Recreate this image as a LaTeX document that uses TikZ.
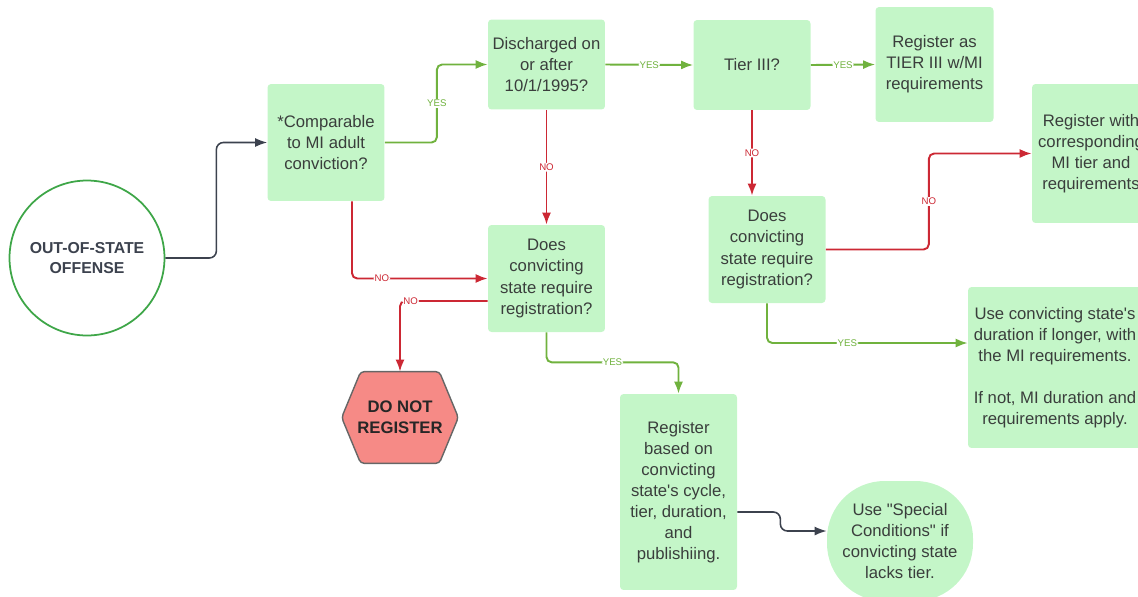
\documentclass[tikz,border=0pt]{standalone}
\usepackage{fontspec}
\setmainfont{Liberation Sans}
\usetikzlibrary{arrows.meta}

\definecolor{boxgreen}{RGB}{196,246,200}
\definecolor{yesgreen}{RGB}{112,178,62}
\definecolor{nored}{RGB}{204,40,52}
\definecolor{linkgray}{RGB}{60,66,78}
\definecolor{ringgreen}{RGB}{62,166,72}
\definecolor{stopred}{RGB}{246,138,134}
\definecolor{inkgray}{RGB}{58,62,60}

\begin{document}
\begin{tikzpicture}[x=0.02cm,y=-0.02cm,>={Latex[length=2.4mm,width=1.8mm]},
    box/.style={fill=boxgreen, rounded corners=2pt, align=center, text=inkgray,
      font=\fontsize{9.5}{12}\selectfont, minimum width=2.34cm, inner sep=2pt},
    yes/.style={->, draw=yesgreen, line width=1.1pt, rounded corners=3pt},
    no/.style={->, draw=nored, line width=1.1pt, rounded corners=3pt},
    link/.style={->, draw=linkgray, line width=0.9pt, rounded corners=4pt},
    tag/.style={font=\fontsize{5.5}{6}\selectfont, fill=white, inner sep=0.6pt},
    yestag/.style={tag, text=yesgreen},
    notag/.style={tag, text=nored}]
    \useasboundingbox (0,0) rectangle (1138,596);
    \clip (0,0) rectangle (1138,596);
    % start
    \node[circle, draw=ringgreen, line width=1pt, fill=white, minimum size=3.1cm,
      align=center, text=linkgray, font=\bfseries\fontsize{9}{11.5}\selectfont]
      (offense) at (87,258) {OUT-OF-STATE\\OFFENSE};
    % questions and outcomes
    \node[box, minimum height=2.34cm] (compare) at (326,142.5) {*Comparable\\to MI adult\\conviction?};
    \node[box, minimum height=1.8cm] (discharged) at (546.5,64.5) {Discharged on\\or after\\10/1/1995?};
    \node[box, minimum height=1.8cm] (tier) at (752,65) {Tier III?};
    \node[box, minimum height=2.3cm, minimum width=2.36cm] (tierthree) at (934.5,64.5) {Register as\\TIER III w/MI\\requirements};
    \node[box, minimum height=2.78cm, minimum width=2.36cm] (corresp) at (1091,153.5) {Register with\\corresponding\\MI tier and\\requirements};
    \node[box, minimum height=2.14cm] (statereq) at (546.5,278.5) {Does\\convicting\\state require\\registration?};
    \node[box, minimum height=2.14cm] (statereqb) at (767,249.5) {Does\\convicting\\state require\\registration?};
    \node[box, minimum height=3.92cm] (based) at (678.5,492) {Register\\based on\\convicting\\state\textquotesingle s cycle,\\tier, duration,\\and\\publishiing.};
    \node[box, minimum width=3.48cm, minimum height=3.22cm] (longer) at (1055,367.5)
      {Use convicting state\textquotesingle s\\duration if longer, with\\the MI requirements.\\[12pt]If not, MI duration and\\requirements apply.};
    \node[box, rounded corners=1.15cm, minimum width=2.92cm, minimum height=2.4cm] (special) at (900,541)
      {Use \textquotedbl Special\\Conditions\textquotedbl{} if\\convicting state\\lacks tier.};
    % stop sign
    \path (400,417.5) node[minimum width=2.32cm, minimum height=1.82cm] (stop) {};
    \draw[fill=stopred, draw=gray!80!black, line width=0.8pt, rounded corners=2pt]
      (stop.west) -- ([xshift=0.38cm]stop.north west) -- ([xshift=-0.38cm]stop.north east)
      -- (stop.east) -- ([xshift=-0.38cm]stop.south east) -- ([xshift=0.38cm]stop.south west) -- cycle;
    \node[align=center, text=black!85, font=\bfseries\fontsize{9.5}{12}\selectfont]
      (stoplabel) at (stop) {DO NOT\\REGISTER};
    % connectors
    \draw[link] (offense.east) -- ++(51,0) |- (compare.west);
    \draw[yes] (compare.east) -- ++(52,0) |- node[yestag, pos=0.25] {YES} (discharged.west);
    \draw[no] ([xshift=0.52cm]compare.south) |- node[notag, pos=0.61] {NO} (statereq.west);
    \draw[yes] (discharged.east) -- node[yestag] {YES} (tier.west);
    \draw[yes] (tier.east) -- node[yestag] {YES} (tierthree.west);
    \draw[no] (discharged.south) -- node[notag] {NO} (statereq.north);
    \draw[no] (tier.south) -- node[notag] {NO} (tier.south |- statereqb.north);
    \draw[no] (statereqb.east) -- ++(103,0) |- node[notag, pos=0.25] {NO} (corresp.west);
    \draw[yes] (statereqb.south) |- node[yestag, pos=0.7] {YES} ([yshift=0.49cm]longer.west);
    \draw[no] ([yshift=-0.45cm]statereq.west) -| node[notag, pos=0.44] {NO} (stop.north);
    \draw[yes] (statereq.south) -- ++(0,30) -| node[yestag, pos=0.25] {YES} (based.north);
    \draw[link] ([yshift=-0.4cm]based.east) -- ++(43,0) |- ([yshift=0.2cm]special.west);
\end{tikzpicture}
\end{document}
